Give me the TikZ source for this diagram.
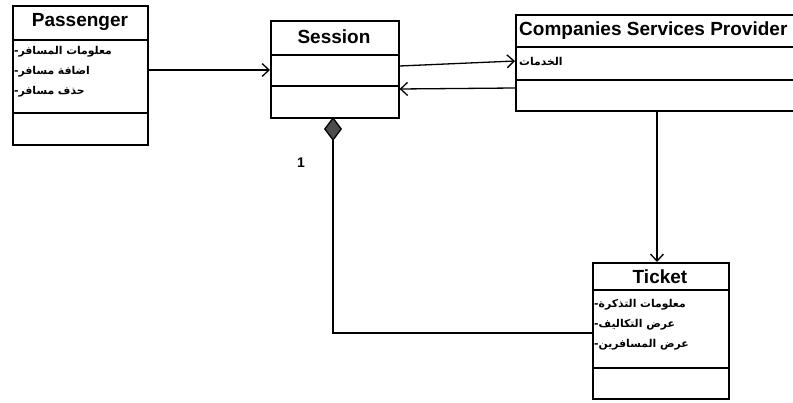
\documentclass[tikz,border=0pt]{standalone}
\usepackage{fontspec}
\setmainfont{Liberation Sans}
\newfontfamily\arabicfont[Script=Arabic]{DejaVu Sans}
\TeXXeTstate=1
\usetikzlibrary{arrows.meta}
\begin{document}
\begin{tikzpicture}[x=1pt,y=-1pt,
  box/.style={draw,line width=1.6pt,rectangle,inner sep=0pt,anchor=north west},
  divider/.style={line width=1.6pt},
  hdr/.style={font=\fontsize{19}{21}\selectfont\bfseries,inner sep=0pt},
  attr/.style={font=\arabicfont\bfseries\fontsize{10.8}{13}\selectfont,anchor=west,inner sep=0pt},
  conn/.style={line width=1.3pt,-{Straight Barb[length=7pt,width=13pt,line width=1.3pt]}},
  comp/.style={line width=1.3pt,{Diamond[length=24pt,width=18pt,fill=black!70]}-}]
\useasboundingbox (0,0) rectangle (793,403);
\fill[white] (0,0) rectangle (793,403);
\clip (0,0) rectangle (793,403);

% Passenger
\node[box,minimum width=135pt,minimum height=139pt] (pass) at (12,5) {};
\draw[divider] (12,40) -- (147,40);
\draw[divider] (12,113) -- (147,113);
\node[hdr] (passT) at (80,22) {Passenger};
\node[attr] (pa1) at (14,52) {-\beginR معلومات المسافر\endR};
\node[attr] (pa2) at (14,72) {-\beginR اضافة مسافر\endR};
\node[attr] (pa3) at (14,92) {-\beginR حذف مسافر\endR};

% Session
\node[box,minimum width=128pt,minimum height=97pt] (sess) at (270,20) {};
\draw[divider] (270,55) -- (398,55);
\draw[divider] (270,86) -- (398,86);
\node[hdr] (sessT) at (334,37) {Session};

% Companies Services Provider
\node[box,minimum width=300pt,minimum height=96pt] (comp) at (515,14) {};
\draw[divider] (515,47) -- (815,47);
\draw[divider] (515,80) -- (815,80);
\node[hdr,anchor=west] (compT) at (519,31) {Companies Services Provider};
\node[attr] (ca1) at (519,62) {\beginR الخدمات\endR};

% Ticket
\node[box,minimum width=136pt,minimum height=136pt] (tick) at (592,262) {};
\draw[divider] (592,290) -- (728,290);
\draw[divider] (592,368) -- (728,368);
\node[hdr] (tickT) at (660,277) {Ticket};
\node[attr] (ta1) at (594,305) {-\beginR معلومات التذكرة\endR};
\node[attr] (ta2) at (594,325) {-\beginR عرض التكاليف\endR};
\node[attr] (ta3) at (594,345) {-\beginR عرض المسافرين\endR};

% connectors
\coordinate (p1) at (pass.east |- 0,70);
\coordinate (s1) at (sess.west |- 0,70);
\draw[conn] (p1) -- (s1);
\coordinate (s2) at (sess.east |- 0,66);
\coordinate (c2) at (comp.west |- 0,61);
\draw[conn] (s2) -- (c2);
\coordinate (c3) at (comp.west |- 0,88);
\coordinate (s3) at (sess.east |- 0,89);
\draw[conn] (c3) -- (s3);
\coordinate (c4) at (657,110);
\coordinate (t4) at (657,262);
\draw[conn] (c4) -- (t4);
\coordinate (sb) at (333,117);
\coordinate (tl) at (tick.west |- 0,333);
\draw[comp] (sb) -- (333,333) -- (tl);
\node[font=\fontsize{14}{15}\selectfont\bfseries] (one) at (301,163) {1};
\end{tikzpicture}
\end{document}
